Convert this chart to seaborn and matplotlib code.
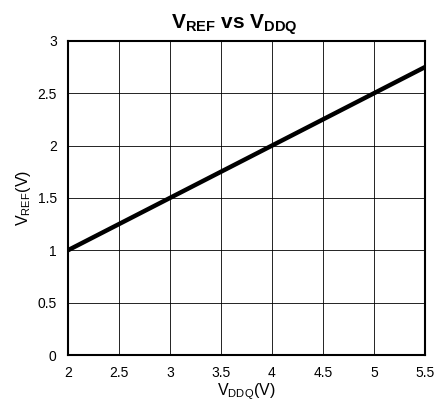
import matplotlib
matplotlib.use("Agg")
import matplotlib.pyplot as plt
import seaborn as sns
import pandas as pd

vddq = [2.0, 5.5]
vref = [1.0, 2.75]
x_ticks = [2, 2.5, 3, 3.5, 4, 4.5, 5, 5.5]
x_labels = ["2", "2.5", "3", "3.5", "4", "4.5", "5", "5.5"]
y_ticks = [0, 0.5, 1, 1.5, 2, 2.5, 3]
y_labels = ["0", "0.5", "1", "1.5", "2", "2.5", "3"]

sns.set_theme(style="white")
plt.rcParams['font.family'] = ['Liberation Sans', 'DejaVu Sans']
plt.rcParams['mathtext.fontset'] = 'custom'
plt.rcParams['mathtext.rm'] = 'Liberation Sans'
plt.rcParams['mathtext.it'] = 'Liberation Sans'
plt.rcParams['mathtext.bf'] = 'Liberation Sans:bold'

fig = plt.figure(figsize=(4.35, 4.09), dpi=100)
ax = fig.add_axes([0.156, 0.132, 0.821, 0.768])

df = pd.DataFrame({"VDDQ": vddq, "VREF": vref})
sns.lineplot(data=df, x="VDDQ", y="VREF", ax=ax, color="black", linewidth=3.2)

ax.set_xlim(2, 5.5)
ax.set_ylim(0, 3)
ax.set_xticks(x_ticks)
ax.set_xticklabels(x_labels)
ax.set_yticks(y_ticks)
ax.set_yticklabels(y_labels)
ax.tick_params(axis='both', length=0, labelsize=10, colors='black', pad=8)
ax.grid(True, color='black', linewidth=0.6)
for s in ax.spines.values():
    s.set_color('black')
    s.set_linewidth(1.5)

ax.set_xlabel(r"$\mathregular{V_{DDQ}(V)}$", fontsize=11.5, color='black', labelpad=1)
ax.set_ylabel(r"$\mathregular{V_{REF}(V)}$", fontsize=11.5, color='black', labelpad=3)
ax.set_title(r"$\mathbf{V_{REF}\ vs\ V_{DDQ}}$", fontsize=15, color='black', pad=9, x=0.465)

fig.savefig("out.png", dpi=100)
